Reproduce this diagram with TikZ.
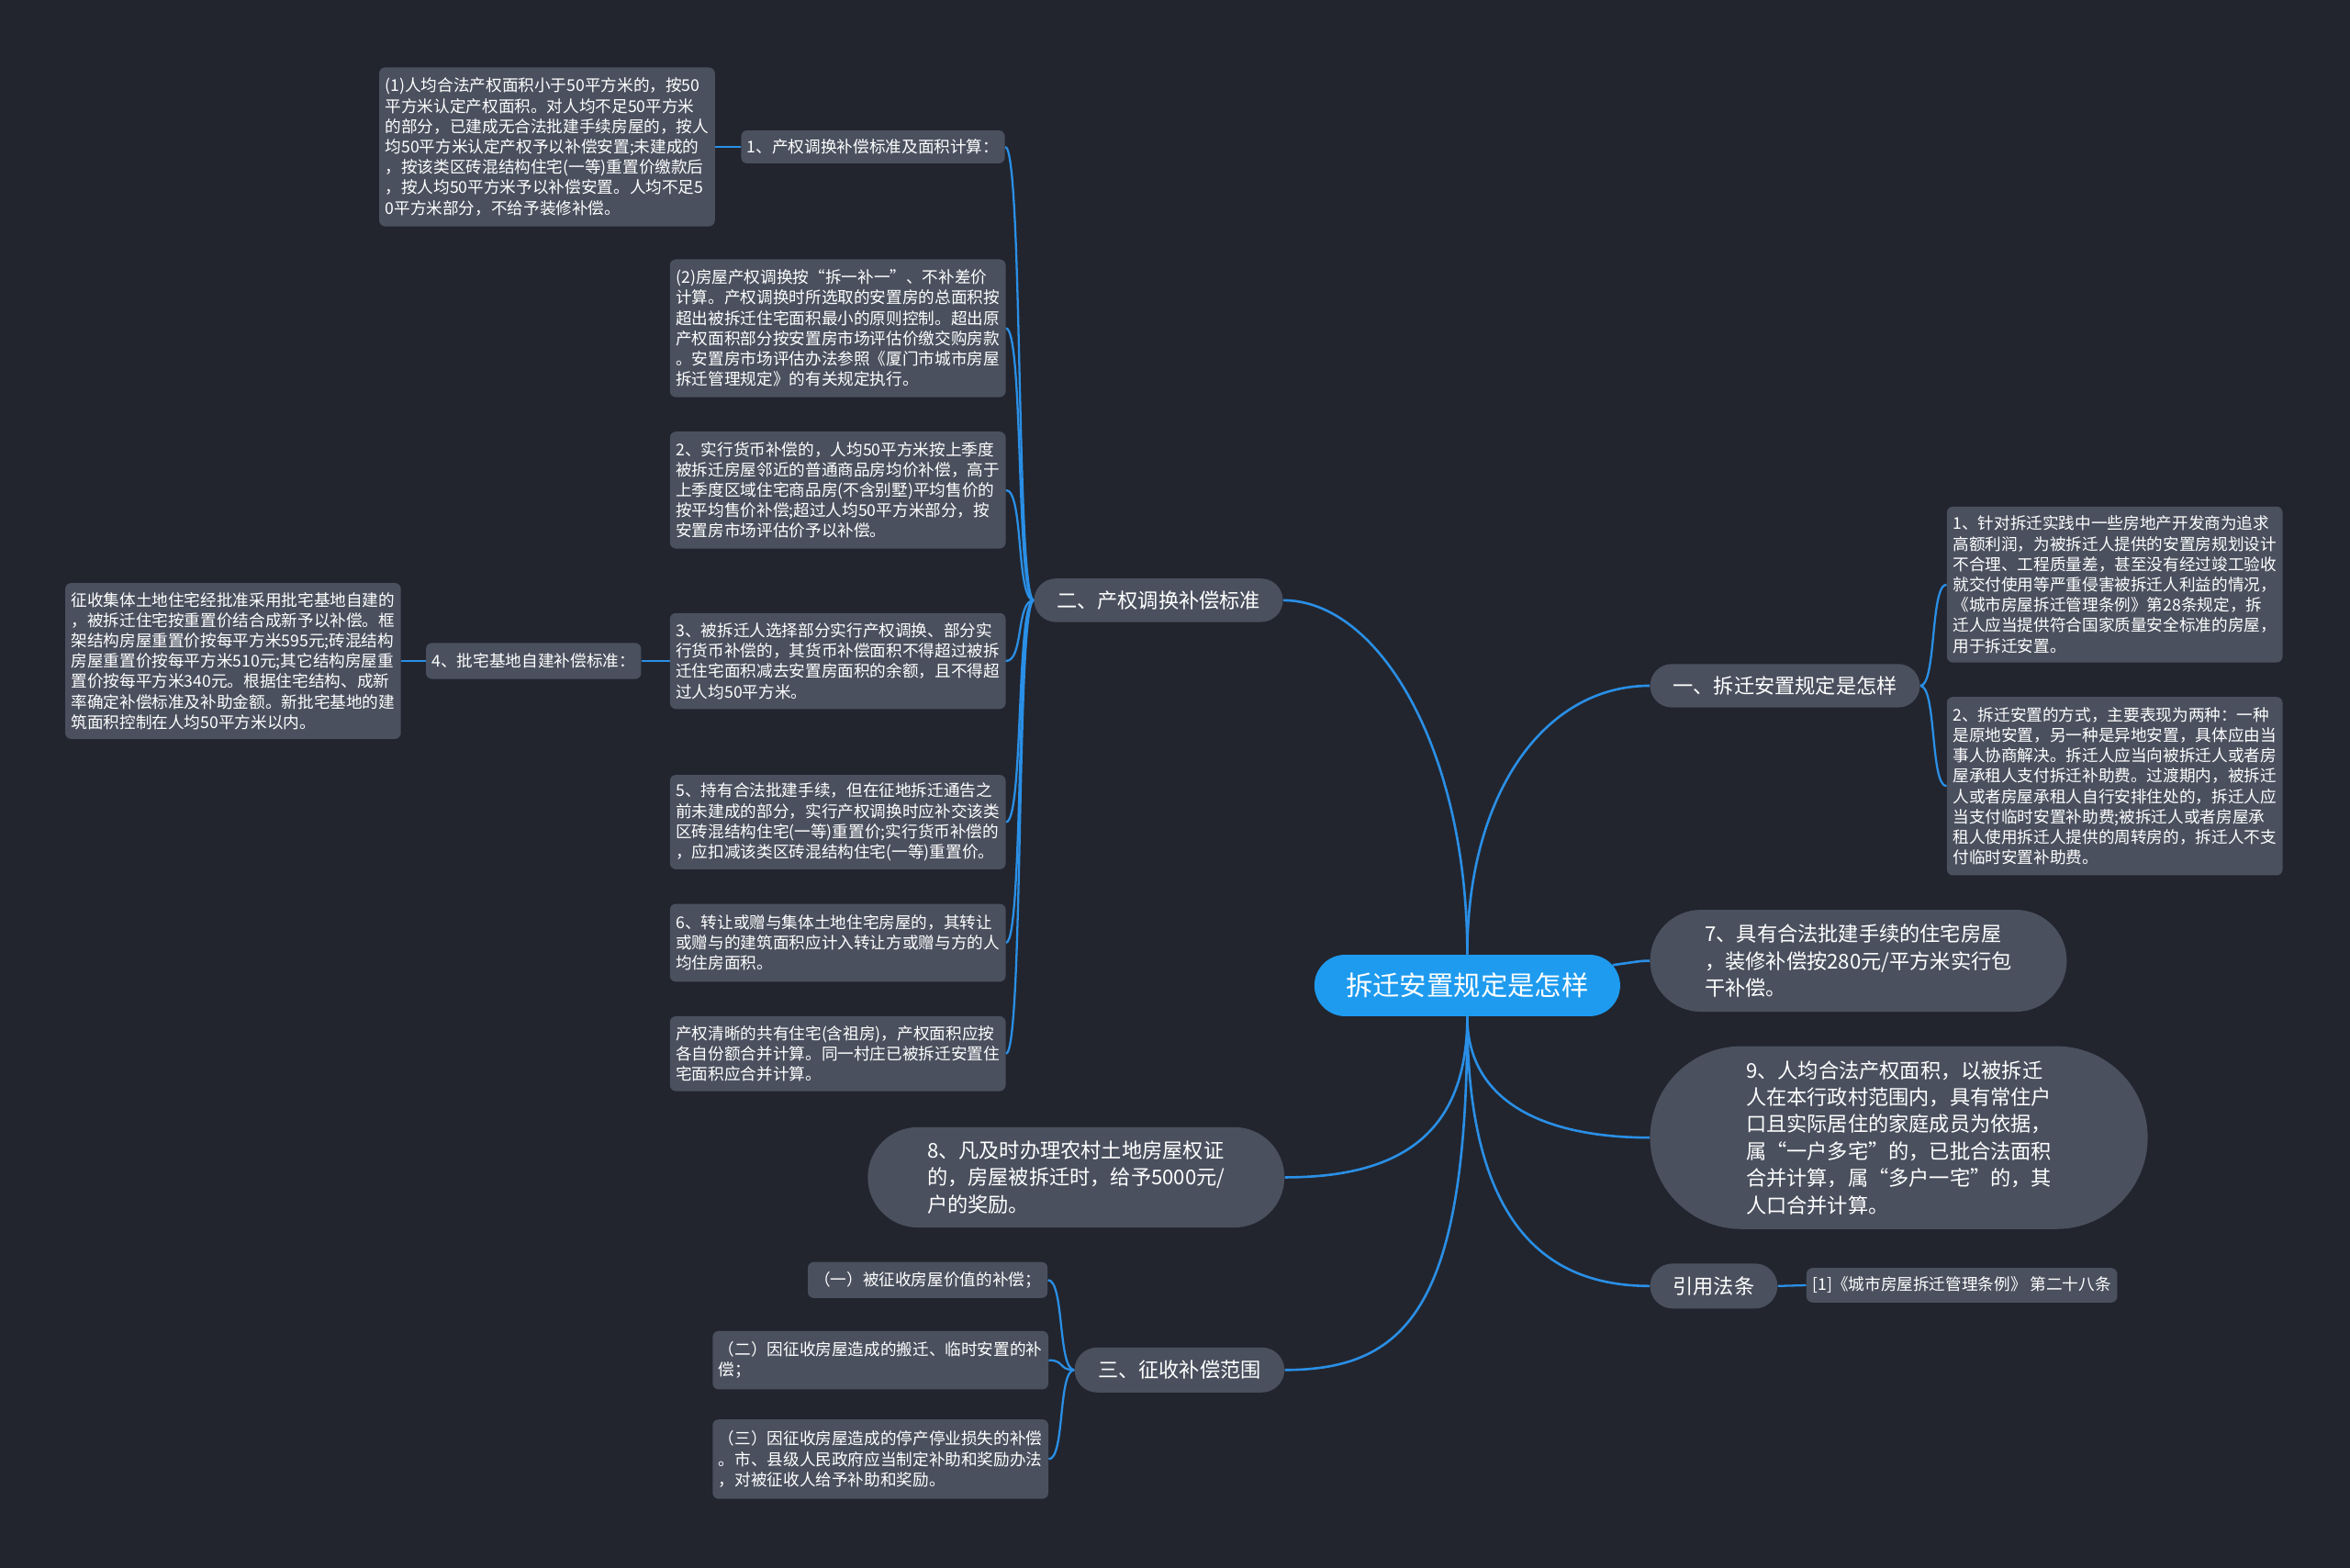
\documentclass[tikz,border=0pt]{standalone}
\usepackage{fontspec}
\setmainfont{Noto Sans CJK SC}
\usetikzlibrary{shapes.misc}
\definecolor{bgc}{HTML}{22252E}
\definecolor{boxc}{HTML}{4A505E}
\definecolor{linec}{HTML}{2A8FE6}
\definecolor{cenc}{HTML}{1E9BEF}
\pgfdeclarelayer{back}
\pgfdeclarelayer{lines}
\pgfsetlayers{back,lines,main}
\begin{document}
\begin{tikzpicture}[x=1pt,y=-1pt,
  conn/.style={draw=linec, line width=1.6pt},
  box/.style={fill=boxc, rounded corners=4pt, text=white, align=left, inner xsep=4pt, inner ysep=1pt, font=\fontsize{10.8}{13.6}\selectfont},
  pill/.style={rounded rectangle, fill=boxc, text=white, align=left, inner sep=0pt, font=\fontsize{13.6}{18}\selectfont},
  centernode/.style={rounded rectangle, fill=cenc, text=white, inner sep=0pt, font=\fontsize{18}{22}\selectfont},
]
\begin{pgfonlayer}{back}
\fill[bgc] (0,0) rectangle (1568,1046);
\end{pgfonlayer}
\useasboundingbox (0,0) rectangle (1568,1046);

% center
\node[centernode, minimum width=204pt, minimum height=41pt] (C) at (979,657.5) {拆迁安置规定是怎样};

% branch two
\node[pill, minimum width=166pt, minimum height=29pt] (TWO) at (773,400.5) {二、产权调换补偿标准};
\node[box, minimum width=175pt, minimum height=22pt] (A1) at (582.5,98) {1、产权调换补偿标准及面积计算：};
\node[box, minimum width=222pt, minimum height=106pt] (P1) at (365,98) {(1)人均合法产权面积小于50平方米的，按50\\平方米认定产权面积。对人均不足50平方米\\的部分，已建成无合法批建手续房屋的，按人\\均50平方米认定产权予以补偿安置;未建成的\\，按该类区砖混结构住宅(一等)重置价缴款后\\，按人均50平方米予以补偿安置。人均不足5\\0平方米部分，不给予装修补偿。};
\node[box, minimum width=222pt, minimum height=92pt] (P2) at (559,219) {(2)房屋产权调换按“拆一补一”、不补差价\\计算。产权调换时所选取的安置房的总面积按\\超出被拆迁住宅面积最小的原则控制。超出原\\产权面积部分按安置房市场评估价缴交购房款\\。安置房市场评估办法参照《厦门市城市房屋\\拆迁管理规定》的有关规定执行。};
\node[box, minimum width=222pt, minimum height=78pt] (B2) at (559,327) {2、实行货币补偿的，人均50平方米按上季度\\被拆迁房屋邻近的普通商品房均价补偿，高于\\上季度区域住宅商品房(不含别墅)平均售价的\\按平均售价补偿;超过人均50平方米部分，按\\安置房市场评估价予以补偿。};
\node[box, minimum width=222pt, minimum height=64pt] (B3) at (559,441) {3、被拆迁人选择部分实行产权调换、部分实\\行货币补偿的，其货币补偿面积不得超过被拆\\迁住宅面积减去安置房面积的余额，且不得超\\过人均50平方米。};
\node[box, minimum width=142pt, minimum height=24pt] (B4) at (356,441) {4、批宅基地自建补偿标准：};
\node[box, minimum width=221pt, minimum height=104pt] (Q) at (155.5,441) {征收集体土地住宅经批准采用批宅基地自建的\\，被拆迁住宅按重置价结合成新予以补偿。框\\架结构房屋重置价按每平方米595元;砖混结构\\房屋重置价按每平方米510元;其它结构房屋重\\置价按每平方米340元。根据住宅结构、成新\\率确定补偿标准及补助金额。新批宅基地的建\\筑面积控制在人均50平方米以内。};
\node[box, minimum width=222pt, minimum height=63pt] (B5) at (559,548.5) {5、持有合法批建手续，但在征地拆迁通告之\\前未建成的部分，实行产权调换时应补交该类\\区砖混结构住宅(一等)重置价;实行货币补偿的\\，应扣减该类区砖混结构住宅(一等)重置价。};
\node[box, minimum width=222pt, minimum height=52pt] (B6) at (559,629) {6、转让或赠与集体土地住宅房屋的，其转让\\或赠与的建筑面积应计入转让方或赠与方的人\\均住房面积。};
\node[box, minimum width=222pt, minimum height=50pt] (B7) at (559,703) {产权清晰的共有住宅(含祖房)，产权面积应按\\各自份额合并计算。同一村庄已被拆迁安置住\\宅面积应合并计算。};

% branch one
\node[pill, minimum width=180pt, minimum height=29pt] (ONE) at (1191,457.5) {一、拆迁安置规定是怎样};
\node[box, minimum width=222pt, minimum height=104pt] (R1) at (1411,390) {1、针对拆迁实践中一些房地产开发商为追求\\高额利润，为被拆迁人提供的安置房规划设计\\不合理、工程质量差，甚至没有经过竣工验收\\就交付使用等严重侵害被拆迁人利益的情况，\\《城市房屋拆迁管理条例》第28条规定，拆\\迁人应当提供符合国家质量安全标准的房屋，\\用于拆迁安置。};
\node[box, minimum width=222pt, minimum height=119pt] (R2) at (1411,524.5) {2、拆迁安置的方式，主要表现为两种：一种\\是原地安置，另一种是异地安置，具体应由当\\事人协商解决。拆迁人应当向被拆迁人或者房\\屋承租人支付拆迁补助费。过渡期内，被拆迁\\人或者房屋承租人自行安排住处的，拆迁人应\\当支付临时安置补助费;被拆迁人或者房屋承\\租人使用拆迁人提供的周转房的，拆迁人不支\\付临时安置补助费。};

% 7, 9, 8
\node[pill, minimum width=278pt, minimum height=68pt] (N7) at (1240,641) {7、具有合法批建手续的住宅房屋\\，装修补偿按280元/平方米实行包\\干补偿。};
\node[pill, minimum width=332pt, minimum height=122pt] (N9) at (1267,759) {9、人均合法产权面积，以被拆迁\\人在本行政村范围内，具有常住户\\口且实际居住的家庭成员为依据，\\属“一户多宅”的，已批合法面积\\合并计算，属“多户一宅”的，其\\人口合并计算。};
\node[pill, minimum width=278pt, minimum height=67pt] (N8) at (718,785.5) {8、凡及时办理农村土地房屋权证\\的，房屋被拆迁时，给予5000元/\\户的奖励。};

% cite
\node[pill, minimum width=85pt, minimum height=30pt] (CITE) at (1143.5,858) {引用法条};
\node[box, minimum width=206pt, minimum height=23pt] (REF) at (1309,857.5) {[1]《城市房屋拆迁管理条例》 第二十八条};

% branch three
\node[pill, minimum width=140pt, minimum height=30pt] (THREE) at (787,914) {三、征收补偿范围};
\node[box, minimum width=160pt, minimum height=24pt] (S1) at (619,854) {（一）被征收房屋价值的补偿；};
\node[box, minimum width=223pt, minimum height=39pt] (S2) at (587.5,907.5) {（二）因征收房屋造成的搬迁、临时安置的补\\偿；};
\node[box, minimum width=223pt, minimum height=53pt] (S3) at (587.5,973.5) {（三）因征收房屋造成的停产停业损失的补偿\\。市、县级人民政府应当制定补助和奖励办法\\，对被征收人给予补助和奖励。};

\begin{pgfonlayer}{lines}
% from center
\draw[conn] (C.north) .. controls (979,500) and (920,400.5) .. (TWO.east);
\draw[conn] (C.north) .. controls (979,530) and (1030,457.5) .. (ONE.west);
\draw[conn] (C.8) .. controls (1090,642) and (1094,641) .. (N7.west);
\draw[conn] (C.south) .. controls (979,735) and (1030,759) .. (N9.west);
\draw[conn] (C.south) .. controls (979,815) and (1030,858) .. (CITE.west);
\draw[conn] (C.south) .. controls (979,760) and (930,785.5) .. (N8.east);
\draw[conn] (C.south) .. controls (979,870) and (940,914) .. (THREE.east);
% two children
\foreach \ch in {A1,P2,B2,B3,B5,B6,B7}
  \draw[conn, line width=1.4pt] (TWO.west) .. controls +(-12,0) and +(12,0) .. (\ch.east);
\draw[conn, line width=1.4pt] (B3.east) -- (B4.east);
\draw[conn, line width=1.4pt] (A1.west) -- (P1.east);
\draw[conn, line width=1.4pt] (B4.west) -- (Q.east);
% one children
\foreach \ch in {R1,R2}
  \draw[conn, line width=1.4pt] (ONE.east) .. controls +(11,0) and +(-11,0) .. (\ch.west);
% three children
\foreach \ch in {S1,S2,S3}
  \draw[conn, line width=1.4pt] (THREE.west) .. controls +(-11,0) and +(11,0) .. (\ch.east);
% cite
\draw[conn, line width=1.4pt] (CITE.east) -- (REF.west);
\end{pgfonlayer}
\end{tikzpicture}
\end{document}
